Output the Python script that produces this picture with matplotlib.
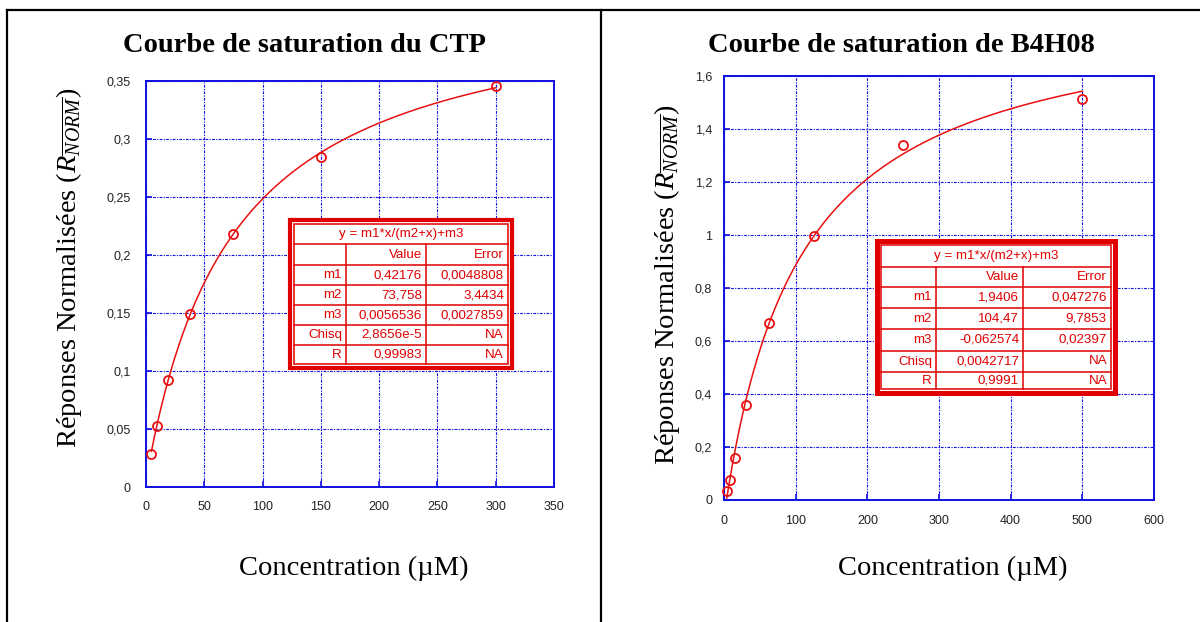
import numpy as np
import matplotlib
matplotlib.use("Agg")
import matplotlib.pyplot as plt
from matplotlib.lines import Line2D
from matplotlib.patches import Rectangle
from matplotlib.ticker import FuncFormatter

plt.rcParams['font.family'] = ['Liberation Sans', 'DejaVu Sans']
plt.rcParams['mathtext.fontset'] = 'custom'
plt.rcParams['mathtext.rm'] = 'Liberation Serif'
plt.rcParams['mathtext.it'] = 'Liberation Serif:italic'

W, H = 1200, 622

# CTP : dilutions successives au 1/2 depuis 300 µM
ctp_conc = [4.6875, 9.375, 18.75, 37.5, 75, 150, 300]
ctp_resp = [0.0287, 0.0528, 0.0920, 0.1494, 0.218, 0.2845, 0.3457]
ctp_fit = [0.42176, 73.758, 0.0056536]
ctp_table = [["", "Value", "Error"],
             ["m1", "0,42176", "0,0048808"],
             ["m2", "73,758", "3,4434"],
             ["m3", "0,0056536", "0,0027859"],
             ["Chisq", "2,8656e-5", "NA"],
             ["R", "0,99983", "NA"]]

# B4H08 : dilutions successives au 1/2 depuis 500 µM
b4_conc = [3.906, 7.8125, 15.625, 31.25, 62.5, 125, 250, 500]
b4_resp = [0.035, 0.074, 0.160, 0.360, 0.669, 0.995, 1.341, 1.514]
b4_fit = [1.9406, 104.47, -0.062574]
b4_table = [["", "Value", "Error"],
            ["m1", "1,9406", "0,047276"],
            ["m2", "104,47", "9,7853"],
            ["m3", "-0,062574", "0,02397"],
            ["Chisq", "0,0042717", "NA"],
            ["R", "0,9991", "NA"]]

ylabel = r"Réponses Normalisées ($R_{\overline{NORM}}$)"
xlabel = "Concentration (µM)"
BLUE = "#1010e0"
RED = "#e81010"
TRED = "#e00000"


def fx(x):
    return x / W


def fy(y):
    return 1 - y / H


def comma(v, pos):
    return ("%g" % v).replace(".", ",")


def make_axes(fig, x0, x1, ytop, ybot, xmax, xstep, ymax, ystep, padx, pady):
    ax = fig.add_axes([fx(x0), fy(ybot), (x1 - x0) / W, (ybot - ytop) / H])
    ax.set_xlim(0, xmax)
    ax.set_ylim(0, ymax)
    ax.set_xticks(np.arange(0, xmax + xstep / 2, xstep))
    ax.set_yticks(np.arange(0, ymax + ystep / 2, ystep))
    ax.yaxis.set_major_formatter(FuncFormatter(comma))
    ax.xaxis.set_major_formatter(FuncFormatter(comma))
    for s in ax.spines.values():
        s.set_color(BLUE)
        s.set_linewidth(1.4)
    ax.tick_params(direction="in", length=4, width=1.2, color=BLUE,
                   labelsize=9, labelcolor="#222222")
    ax.tick_params(axis="x", pad=padx)
    ax.tick_params(axis="y", pad=pady)
    ax.grid(True, color=BLUE, linewidth=0.8, linestyle=(0, (2.5, 1.2, 1, 1.2)))
    ax.set_axisbelow(True)
    return ax


def draw_curve(ax, conc, resp, fit):
    m1, m2, m3 = fit
    xs = np.linspace(conc[0], conc[-1], 400)
    ax.plot(xs, m1 * xs / (m2 + xs) + m3, color=RED, linewidth=1.1, zorder=3)
    ax.plot(conc, resp, linestyle="none", marker="o", markersize=6.5,
            markerfacecolor="none", markeredgecolor=RED, markeredgewidth=1.3,
            zorder=4, clip_on=False)


def draw_table(fig, x0, x1, y0, y1, hlines, vlines, rows, border):
    fig.add_artist(Rectangle((fx(x0), fy(y1)), (x1 - x0) / W, (y1 - y0) / H,
                             facecolor="white", edgecolor=TRED,
                             linewidth=border, zorder=5))
    ins = 4
    ix0, ix1, iy0, iy1 = x0 + ins, x1 - ins, y0 + ins, y1 - ins
    fig.add_artist(Rectangle((fx(ix0), fy(iy1)), (ix1 - ix0) / W, (iy1 - iy0) / H,
                             facecolor="none", edgecolor=TRED,
                             linewidth=1.1, zorder=6))
    for hy in hlines:
        fig.add_artist(Line2D([fx(ix0), fx(ix1)], [fy(hy), fy(hy)],
                              color=TRED, linewidth=1.1, zorder=6))
    for vx in vlines:
        fig.add_artist(Line2D([fx(vx), fx(vx)], [fy(hlines[0]), fy(iy1)],
                              color=TRED, linewidth=1.1, zorder=6))
    fig.text(fx((x0 + x1) / 2), fy((iy0 + hlines[0]) / 2), "y = m1*x/(m2+x)+m3",
             ha="center", va="center", fontsize=9.6, color=TRED, zorder=7)
    edges = hlines + [iy1]
    rights = [vlines[0], vlines[1], ix1]
    for r, row in enumerate(rows):
        yc = (edges[r] + edges[r + 1]) / 2
        for c, cell in enumerate(row):
            fig.text(fx(rights[c] - 4), fy(yc), cell, ha="right", va="center",
                     fontsize=9.6, color=TRED, zorder=7)


fig = plt.figure(figsize=(12, 6.22), dpi=100)

# cadre du tableau
for seg in [([7, 7], [10, H]), ([601, 601], [10, H]), ([7, W], [10, 10])]:
    fig.add_artist(Line2D([fx(v) for v in seg[0]], [fy(v) for v in seg[1]],
                          color="black", linewidth=1.6))

ax1 = make_axes(fig, 146, 554, 81, 487, 350, 50, 0.35, 0.05, 10, 11)
draw_curve(ax1, ctp_conc, ctp_resp, ctp_fit)
ax2 = make_axes(fig, 724, 1154, 76, 500, 600, 100, 1.6, 0.2, 10.5, 8.5)
draw_curve(ax2, b4_conc, b4_resp, b4_fit)

serif = ['Liberation Serif', 'DejaVu Serif']
fig.text(fx(304), fy(45), "Courbe de saturation du CTP", ha="center", va="center",
         family=serif, fontweight="bold", fontsize=20.5)
fig.text(fx(901), fy(45), "Courbe de saturation de B4H08", ha="center", va="center",
         family=serif, fontweight="bold", fontsize=20.5)
fig.text(fx(69), fy(268), ylabel, rotation=90, ha="center", va="center",
         family=serif, fontsize=20.5)
fig.text(fx(667), fy(285), ylabel, rotation=90, ha="center", va="center",
         family=serif, fontsize=20.5)
fig.text(fx(354), fy(568), xlabel, ha="center", va="center", family=serif, fontsize=20.5)
fig.text(fx(953), fy(568), xlabel, ha="center", va="center", family=serif, fontsize=20.5)

draw_table(fig, 290, 512, 220, 368, [244, 265, 285, 305, 325, 345], [346, 426],
           ctp_table, 3)
draw_table(fig, 877, 1115, 241, 393, [267, 287, 308, 329, 351, 372], [936, 1023],
           b4_table, 3.6)

fig.savefig("out.png", dpi=100)
